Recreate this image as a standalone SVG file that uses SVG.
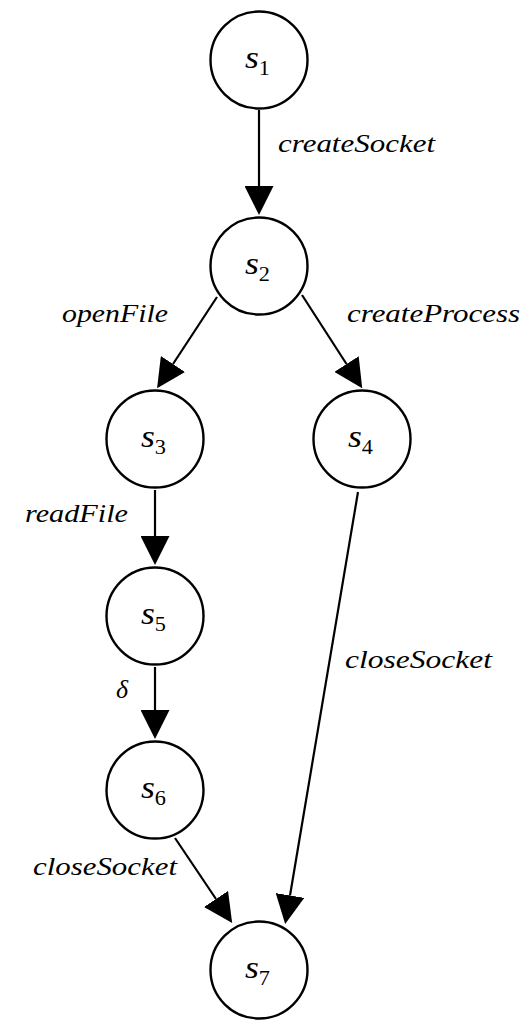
<svg xmlns="http://www.w3.org/2000/svg" width="527" height="1023" viewBox="0 0 527 1023">
  <style>
    .state { fill: #ffffff; stroke: #000000; stroke-width: 2.4; }
    .edge { stroke: #000000; stroke-width: 2.2; fill: none; }
    .nlab { font-family: "Liberation Serif", "Times New Roman", serif; font-style: italic; font-size: 32px; fill: #000000; }
    .sub { font-style: normal; font-size: 20px; }
    .elab { font-family: "Liberation Serif", "Times New Roman", serif; font-style: italic; font-size: 26px; fill: #000000; }
  </style>
  <defs>
    <marker id="arrow" viewBox="0 0 29 29" refX="0" refY="14.5" markerWidth="29" markerHeight="29" markerUnits="userSpaceOnUse" orient="auto">
      <path d="M0,0 L29,14.5 L0,29 z" fill="#000000"/>
    </marker>
  </defs>

  <!-- transitions -->
  <g id="edges">
    <line class="edge" x1="259" y1="110" x2="259" y2="186" marker-end="url(#arrow)"/>
    <line class="edge" x1="217" y1="297" x2="173" y2="364" marker-end="url(#arrow)"/>
    <line class="edge" x1="302" y1="295" x2="346.5" y2="364" marker-end="url(#arrow)"/>
    <line class="edge" x1="155" y1="490" x2="155" y2="536" marker-end="url(#arrow)"/>
    <line class="edge" x1="155" y1="667" x2="155" y2="710" marker-end="url(#arrow)"/>
    <line class="edge" x1="175" y1="838" x2="216" y2="899" marker-end="url(#arrow)"/>
    <line class="edge" x1="358" y1="492" x2="290" y2="895.5" marker-end="url(#arrow)"/>

    <text class="elab" x="278" y="152" textLength="157" lengthAdjust="spacingAndGlyphs">createSocket</text>
    <text class="elab" x="62" y="322" textLength="106" lengthAdjust="spacingAndGlyphs">openFile</text>
    <text class="elab" x="347" y="322" textLength="173" lengthAdjust="spacingAndGlyphs">createProcess</text>
    <text class="elab" x="25" y="522" textLength="103" lengthAdjust="spacingAndGlyphs">readFile</text>
    <text class="elab" x="116" y="698">δ</text>
    <text class="elab" x="345" y="668" textLength="147" lengthAdjust="spacingAndGlyphs">closeSocket</text>
    <text class="elab" x="33" y="875" textLength="144" lengthAdjust="spacingAndGlyphs">closeSocket</text>
  </g>

  <!-- states -->
  <g id="s1">
    <circle class="state" cx="259" cy="60" r="48.5"/>
    <text class="nlab" x="245" y="68" textLength="25" lengthAdjust="spacingAndGlyphs">s<tspan class="sub" dy="7">1</tspan></text>
  </g>
  <g id="s2">
    <circle class="state" cx="259" cy="266" r="48.5"/>
    <text class="nlab" x="245" y="274" textLength="25" lengthAdjust="spacingAndGlyphs">s<tspan class="sub" dy="7">2</tspan></text>
  </g>
  <g id="s3">
    <circle class="state" cx="155" cy="439" r="48.5"/>
    <text class="nlab" x="141" y="447" textLength="25" lengthAdjust="spacingAndGlyphs">s<tspan class="sub" dy="7">3</tspan></text>
  </g>
  <g id="s4">
    <circle class="state" cx="362" cy="439" r="48.5"/>
    <text class="nlab" x="348" y="447" textLength="25" lengthAdjust="spacingAndGlyphs">s<tspan class="sub" dy="7">4</tspan></text>
  </g>
  <g id="s5">
    <circle class="state" cx="155" cy="616" r="48.5"/>
    <text class="nlab" x="141" y="624" textLength="25" lengthAdjust="spacingAndGlyphs">s<tspan class="sub" dy="7">5</tspan></text>
  </g>
  <g id="s6">
    <circle class="state" cx="155" cy="790" r="48.5"/>
    <text class="nlab" x="141" y="798" textLength="25" lengthAdjust="spacingAndGlyphs">s<tspan class="sub" dy="7">6</tspan></text>
  </g>
  <g id="s7">
    <circle class="state" cx="259" cy="970" r="48.5"/>
    <text class="nlab" x="245" y="978" textLength="25" lengthAdjust="spacingAndGlyphs">s<tspan class="sub" dy="7">7</tspan></text>
  </g>
</svg>
